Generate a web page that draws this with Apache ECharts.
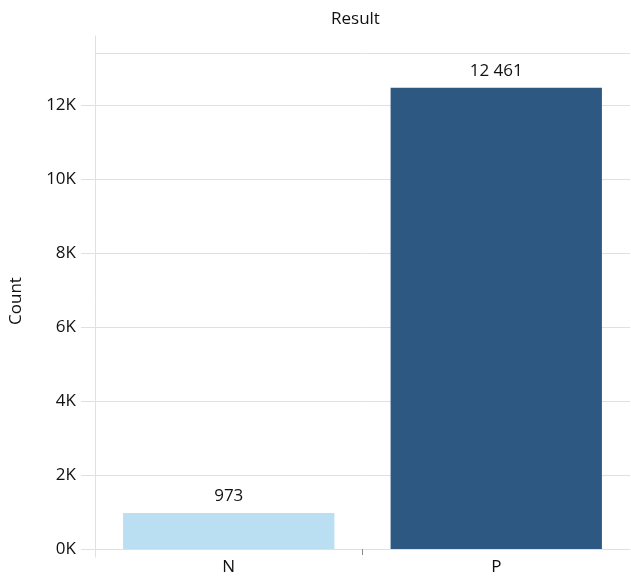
<!DOCTYPE html>
<html>
<head>
<meta charset="utf-8">
<title>Result</title>
<script src="https://cdn.jsdelivr.net/npm/echarts@6/dist/echarts.min.js"></script>
<style>
  html, body { margin: 0; padding: 0; background: #fff; }
  #chart { width: 631px; height: 576px; }
</style>
</head>
<body>
<div id="chart"></div>
<script>
// Result counts per category
const categories = ['N', 'P'];
const counts = [973, 12461];
const barColors = ['#badef2', '#2c5882'];
const yTickStep = 2000;
const yMax = 13400;

const FONT = '"Open Sans", "Noto Sans", sans-serif';
const GRID_COLOR = '#e0e0e0';
const TEXT_COLOR = '#111';
const FONT_SIZE = 17;

// "12 461" style thousands grouping
function groupThousands(v) {
  return String(v).replace(/\B(?=(\d{3})+(?!\d))/g, ' ');
}

const chart = echarts.init(document.getElementById('chart'), null, { renderer: 'canvas' });

chart.setOption({
  animation: false,
  backgroundColor: '#ffffff',
  textStyle: { fontFamily: FONT },
  title: {
    text: 'Result',
    left: 326,
    top: 6,
    textStyle: { fontFamily: FONT, fontSize: FONT_SIZE, fontWeight: 'normal', color: TEXT_COLOR }
  },
  grid: [
    { left: 95, right: 1, top: 53, bottom: 27 },
    // thin frame grid carrying the taller vertical axis line
    { left: 95, width: 1, top: 36, bottom: 19 }
  ],
  xAxis: [
    {
      type: 'category',
      gridIndex: 0,
      data: categories,
      axisLine: { show: true, lineStyle: { color: GRID_COLOR, width: 1 } },
      axisTick: { show: false },
      axisLabel: { margin: 10, fontSize: FONT_SIZE, color: TEXT_COLOR, fontFamily: FONT },
      splitLine: { show: false }
    },
    { type: 'value', gridIndex: 1, show: false },
    // divider tick between the two category bands
    {
      type: 'value',
      gridIndex: 0,
      position: 'bottom',
      min: 0,
      max: categories.length,
      interval: 1,
      axisLine: { show: false },
      axisLabel: { show: false },
      splitLine: { show: false },
      axisTick: {
        show: true,
        length: 6,
        lineStyle: { color: '#888' },
        customValues: categories.slice(1).map((c, i) => i + 1)
      }
    }
  ],
  yAxis: [
    {
      type: 'value',
      gridIndex: 0,
      min: 0,
      max: yMax,
      interval: yTickStep,
      name: 'Count',
      nameLocation: 'middle',
      nameGap: 70,
      nameTextStyle: { fontSize: FONT_SIZE, color: TEXT_COLOR, fontFamily: FONT },
      axisLine: { show: false },
      axisTick: { show: true, length: 14, lineStyle: { color: GRID_COLOR } },
      axisLabel: {
        showMaxLabel: false,
        margin: 19,
        fontSize: FONT_SIZE,
        color: TEXT_COLOR,
        fontFamily: FONT,
        formatter: v => (v / 1000) + 'K'
      },
      splitLine: { show: true, lineStyle: { color: GRID_COLOR, width: 1 } }
    },
    {
      type: 'value',
      gridIndex: 1,
      min: 0,
      max: 1,
      axisLine: { show: true, lineStyle: { color: GRID_COLOR, width: 1 } },
      axisTick: { show: false },
      axisLabel: { show: false },
      splitLine: { show: false }
    }
  ],
  series: [
    {
      type: 'bar',
      xAxisIndex: 0,
      yAxisIndex: 0,
      barWidth: '79%',
      data: counts.map((v, i) => ({ value: v, itemStyle: { color: barColors[i] } })),
      label: {
        show: true,
        position: 'top',
        distance: 8,
        fontSize: FONT_SIZE,
        color: TEXT_COLOR,
        fontFamily: FONT,
        formatter: p => groupThousands(p.value)
      }
    }
  ]
});
</script>
</body>
</html>
